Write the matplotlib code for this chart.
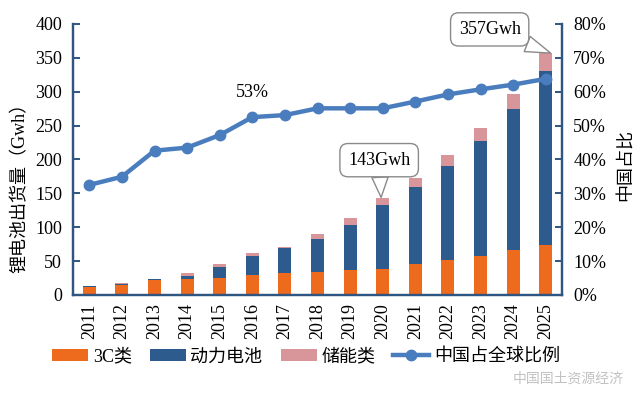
# -*- coding: utf-8 -*-
# 锂电池出货量与中国占比
import matplotlib
matplotlib.use('Agg')
import matplotlib.pyplot as plt
from matplotlib.ticker import PercentFormatter

plt.rcParams['font.family'] = ['Liberation Serif', 'Noto Sans CJK SC']
plt.rcParams['axes.unicode_minus'] = False

years = [2011, 2012, 2013, 2014, 2015, 2016, 2017, 2018, 2019, 2020, 2021, 2022, 2023, 2024, 2025]
c3 = [11.5, 15, 22, 24, 25.5, 30, 33, 34, 37, 39, 45, 51, 58, 66, 74]
power = [1.5, 1.5, 1.5, 4.5, 15.5, 27.5, 36, 49, 66, 94, 114, 140, 170, 209, 257]
storage = [0.5, 0.5, 0.5, 3.5, 4.5, 4.5, 2, 7, 10, 10, 13, 15, 19, 22, 26]
share = [32.5, 34.9, 42.6, 43.5, 47.2, 52.5, 53.1, 55.1, 55.1, 55.1, 57.1, 59.2, 60.7, 62.1, 63.8]

c_orange = '#ee6a1c'
c_blue = '#2e5b8e'
c_pink = '#d9969a'
c_line = '#4a7dbd'
c_axis = '#2f5680'

fig = plt.figure(figsize=(6.4, 3.93), dpi=100)
ax = fig.add_axes([0.1141, 0.2494, 0.7641, 0.6896])
ax2 = ax.twinx()

w = 0.4
bottom2 = [a + b for a, b in zip(c3, power)]
b1 = ax.bar(years, c3, w, color=c_orange, label='3C类', zorder=2)
b2 = ax.bar(years, power, w, bottom=c3, color=c_blue, label='动力电池', zorder=2)
b3 = ax.bar(years, storage, w, bottom=bottom2, color=c_pink, label='储能类', zorder=2)
ln, = ax2.plot(years, share, color=c_line, lw=3.2, marker='o', ms=7.5,
               label='中国占全球比例', zorder=3)

ax.set_xlim(2010.5, 2025.5)
ax.set_ylim(0, 400)
ax2.set_ylim(0, 80)
ax.set_yticks(range(0, 401, 50))
ax2.set_yticks(range(0, 81, 10))
ax2.yaxis.set_major_formatter(PercentFormatter(decimals=0))
ax.set_xticks(years)
ax.set_xticklabels([str(y) for y in years], rotation=90)

for a in (ax, ax2):
    a.spines['top'].set_visible(False)
    for s in ('left', 'right', 'bottom'):
        a.spines[s].set_color(c_axis)
        a.spines[s].set_linewidth(1.6)
    a.tick_params(axis='y', direction='in', length=5, width=1.4, color=c_axis,
                  labelsize=13, pad=8)
ax.tick_params(axis='x', length=0, labelsize=13, pad=6)

fig.text(20 / 640, 0.534, '锂电池出货量（Gwh）', rotation=90, ha='center', va='center', fontsize=13)
fig.text(626 / 640, 0.58, '中国占比', rotation=90, ha='center', va='center', fontsize=13)

# 标注
ax2.text(2016, 59.9, '53%', ha='center', va='center', fontsize=13)
box = dict(boxstyle='round,pad=0.45', fc='white', ec='#8a8a8a', lw=1)
arr = dict(arrowstyle='wedge,tail_width=0.9', fc='white', ec='#8a8a8a', lw=1,
           shrinkA=0, shrinkB=0)
ax.annotate('143Gwh', xy=(2019.95, 144), xytext=(2019.89, 199), ha='center', va='center',
            fontsize=13, bbox=box, arrowprops=arr, zorder=5)
ax.annotate('357Gwh', xy=(2025.15, 357), xytext=(2023.28, 392), ha='center', va='center',
            fontsize=13, bbox=box, arrowprops=arr, zorder=5, annotation_clip=False)

fig.legend(handles=[b1, b2, b3, ln], loc='center', bbox_to_anchor=(306 / 640, 0.092),
           ncol=4, frameon=False, fontsize=13, handlelength=2.0, handleheight=0.6,
           handletextpad=0.25, columnspacing=1.0)

fig.text(0.975, 0.035, '中国国土资源经济', ha='right', va='center', fontsize=10,
         color='#999999', alpha=0.6)

fig.savefig('out.png', dpi=100)
